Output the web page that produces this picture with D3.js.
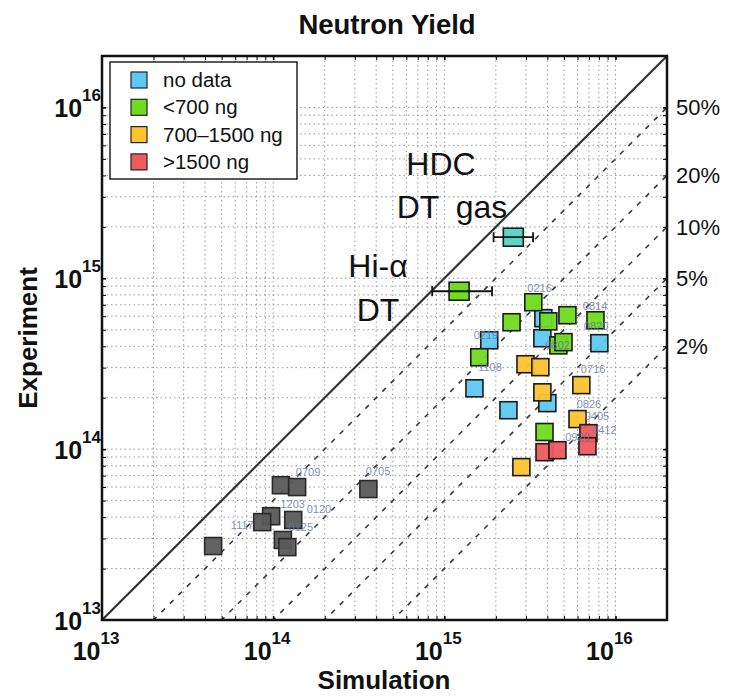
<!DOCTYPE html>
<html>
<head>
<meta charset="utf-8">
<script src="https://cdn.jsdelivr.net/npm/d3@7"></script>
<style>
  body { margin: 0; background: #fff; }
  svg { font-family: "Liberation Sans", Arial, sans-serif; }
</style>
</head>
<body>
<svg id="chart" width="729" height="698"></svg>
<script>
// [simulation, experiment] neutron yields
var noData = [[3.79e15, 5.84e14], [1.83e15, 4.34e14], [3.74e15, 4.46e14], [8.05e15, 4.17e14],
  [1.5e15, 2.27e14], [2.37e15, 1.69e14], [4.0e15, 1.86e14]];
var under700 = [[3.31e15, 7.24e14], [2.47e15, 5.53e14], [4.05e15, 5.6e14], [5.24e15, 6.08e14],
  [7.64e15, 5.68e14], [4.64e15, 4.05e14], [4.97e15, 4.23e14], [1.6e15, 3.45e14], [3.85e15, 1.26e14]];
var mid700to1500 = [[2.98e15, 3.14e14], [3.64e15, 3.02e14], [3.74e15, 2.15e14], [6.32e15, 2.37e14],
  [6.0e15, 1.5e14], [2.82e15, 7.85e13]];
var over1500 = [[6.95e15, 1.24e14], [6.86e15, 1.04e14], [3.85e15, 9.6e13], [4.58e15, 9.86e13]];
var oldShots = [[1.11e14, 6.15e13], [1.38e14, 6.0e13], [3.6e14, 5.84e13], [9.73e13, 4.05e13],
  [8.63e13, 3.74e13], [1.31e14, 3.85e13], [1.14e14, 2.94e13], [1.21e14, 2.67e13], [4.46e13, 2.71e13]];

// highlighted shots: [x, y, xLow, xHigh]
var hdcShot = [2.53e15, 1.74e15, 1.94e15, 3.3e15];
var hiAlphaShot = [1.22e15, 8.4e14, 8.5e14, 1.9e15];

var shotLabels = [["0216", 3.6e15, 8.3e14], ["0814", 7.6e15, 6.5e14], ["0820", 7.7e15, 5.0e14],
  ["0219", 1.75e15, 4.4e14], ["1108", 1.85e15, 2.85e14], ["0716", 7.4e15, 2.8e14],
  ["0826", 7.0e15, 1.75e14], ["0405", 7.8e15, 1.48e14], ["0412", 8.6e15, 1.22e14],
  ["0705", 4.1e14, 7.1e13], ["0709", 1.6e14, 7.0e13], ["1203", 1.3e14, 4.5e13],
  ["0120", 1.85e14, 4.25e13], ["1117", 6.6e13, 3.4e13], ["0125", 1.45e14, 3.3e13],
  ["0802", 4.6e15, 3.85e14], ["0920", 6.0e15, 1.12e14]];

var fractions = [0.5, 0.2, 0.1, 0.05, 0.02];
var fractionLabels = ["50%", "20%", "10%", "5%", "2%"];

var legendNames = ["no data", "<700 ng", "700\u20131500 ng", ">1500 ng"];
var legendColors = ["#5ec8f2", "#6fdc1e", "#fbc32e", "#ef5a5e"];

var svg = d3.select("#chart");
var pL = 102, pR = 667, pT = 56, pB = 620;
var domain = [1e13, 2e16];

var x = d3.scaleLog().domain(domain).range([pL, pR]);
var y = d3.scaleLog().domain(domain).range([pB, pT]);

svg.append("defs").append("clipPath").attr("id", "plotclip")
  .append("rect").attr("x", pL).attr("y", pT)
  .attr("width", pR - pL).attr("height", pB - pT);

// dotted grid at every log tick
var ticksAll = x.ticks().filter(function(t) { return t > domain[0] && t < domain[1]; });
var grid = svg.append("g").attr("stroke", "#9a9a9a").attr("stroke-width", 1)
  .attr("stroke-dasharray", "1.5,3");
grid.selectAll(".gx").data(ticksAll).enter().append("line")
  .attr("x1", function(d) { return x(d); }).attr("x2", function(d) { return x(d); })
  .attr("y1", pT).attr("y2", pB);
grid.selectAll(".gy").data(ticksAll).enter().append("line")
  .attr("y1", function(d) { return y(d); }).attr("y2", function(d) { return y(d); })
  .attr("x1", pL).attr("x2", pR);

// legend box
var leg = svg.append("g");
leg.append("rect").attr("x", 110).attr("y", 62).attr("width", 187).attr("height", 117)
  .attr("fill", "#fff").attr("stroke", "#000").attr("stroke-width", 1.3);
legendNames.forEach(function(name, i) {
  var cy = 80 + i * 27.3;
  leg.append("rect").attr("x", 131).attr("y", cy - 8).attr("width", 16).attr("height", 16)
    .attr("fill", legendColors[i]).attr("stroke", "#222").attr("stroke-width", 1.2);
  leg.append("text").attr("x", 163).attr("y", cy + 7).attr("font-size", 20.5)
    .attr("fill", "#111").text(name);
});

// diagonal lines
var lines = svg.append("g").attr("clip-path", "url(#plotclip)");
lines.append("line")
  .attr("x1", x(domain[0])).attr("y1", y(domain[0]))
  .attr("x2", x(domain[1])).attr("y2", y(domain[1]))
  .attr("stroke", "#333").attr("stroke-width", 2.2);
lines.selectAll(".frac").data(fractions).enter().append("line")
  .attr("x1", x(domain[0])).attr("y1", function(f) { return y(domain[0] * f); })
  .attr("x2", x(domain[1])).attr("y2", function(f) { return y(domain[1] * f); })
  .attr("stroke", "#3a3a3a").attr("stroke-width", 1.6).attr("stroke-dasharray", "5,7");

// points
var sq = 17;
function drawSquares(data, color, edge) {
  svg.append("g").selectAll("rect").data(data).enter().append("rect")
    .attr("x", function(d) { return x(d[0]) - sq / 2; })
    .attr("y", function(d) { return y(d[1]) - sq / 2; })
    .attr("width", sq).attr("height", sq)
    .attr("fill", color).attr("fill-opacity", 0.95)
    .attr("stroke", edge).attr("stroke-width", 1.6);
}
drawSquares(oldShots, "#5a5a5a", "#2a2a2a");
drawSquares(noData, legendColors[0], "#1a1a1a");
drawSquares(under700, legendColors[1], "#1a1a1a");
drawSquares(mid700to1500, legendColors[2], "#1a1a1a");
drawSquares(over1500, legendColors[3], "#1a1a1a");

// shot labels (on top of the markers)
svg.append("g").attr("clip-path", "url(#plotclip)")
  .selectAll("text").data(shotLabels).enter().append("text")
  .attr("x", function(d) { return x(d[1]); }).attr("y", function(d) { return y(d[2]); })
  .attr("font-size", 11).attr("fill", "#6677aa").attr("fill-opacity", 0.85)
  .attr("text-anchor", "middle")
  .text(function(d) { return d[0]; });

// highlighted shots with error bars
function drawErrShot(s, color) {
  var g = svg.append("g");
  var cy = y(s[1]);
  g.append("rect").attr("x", x(s[0]) - 10).attr("y", cy - 9).attr("width", 20).attr("height", 18)
    .attr("fill", color).attr("stroke", "#1a1a1a").attr("stroke-width", 1.6);
  g.append("line").attr("x1", x(s[2])).attr("x2", x(s[3])).attr("y1", cy).attr("y2", cy)
    .attr("stroke", "#111").attr("stroke-width", 1.8);
  [s[2], s[3]].forEach(function(v) {
    g.append("line").attr("x1", x(v)).attr("x2", x(v)).attr("y1", cy - 5).attr("y2", cy + 5)
      .attr("stroke", "#111").attr("stroke-width", 1.8);
  });
}
drawErrShot(hdcShot, "#5cd4c6");
drawErrShot(hiAlphaShot, legendColors[1]);

// annotations
var notes = svg.append("g").attr("font-size", 32).attr("fill", "#111").attr("text-anchor", "middle");
notes.append("text").attr("x", 441).attr("y", 175).text("HDC");
notes.append("text").attr("x", 452).attr("y", 218).attr("word-spacing", 8).text("DT gas");
notes.append("text").attr("x", 378).attr("y", 277).text("Hi-\u03b1");
notes.append("text").attr("x", 378).attr("y", 321).text("DT");

// axes (ticks inward, box)
var majors = [1e13, 1e14, 1e15, 1e16];
function boxAxis(axisFn, scale, transform) {
  svg.append("g").attr("transform", transform)
    .call(axisFn(scale).tickValues(ticksAll).tickSize(4).tickFormat(""))
    .call(function(g) { g.select(".domain").remove(); })
    .selectAll("line").attr("stroke", "#000").attr("stroke-width", function(d) {
      return majors.indexOf(d) >= 0 ? 1.6 : 1;
    });
}
boxAxis(d3.axisTop, x, "translate(0," + pB + ")");
boxAxis(d3.axisBottom, x, "translate(0," + pT + ")");
boxAxis(d3.axisRight, y, "translate(" + pL + ",0)");
boxAxis(d3.axisLeft, y, "translate(" + pR + ",0)");

svg.append("rect").attr("x", pL).attr("y", pT)
  .attr("width", pR - pL).attr("height", pB - pT)
  .attr("fill", "none").attr("stroke", "#111").attr("stroke-width", 2.5);

// tick labels
var exps = [13, 14, 15, 16];
exps.forEach(function(e) {
  var v = Math.pow(10, e);
  var tx = svg.append("text").attr("x", x(v) - 6).attr("y", 660)
    .attr("text-anchor", "middle").attr("font-weight", "bold").attr("font-size", 25).attr("fill", "#111");
  tx.append("tspan").text("10");
  tx.append("tspan").attr("dy", -16).attr("font-size", 17).text(e);
  var ty = svg.append("text").attr("x", 101).attr("y", y(v) + 10)
    .attr("text-anchor", "end").attr("font-weight", "bold").attr("font-size", 25).attr("fill", "#111");
  ty.append("tspan").text("10");
  ty.append("tspan").attr("dy", -16).attr("font-size", 17).text(e);
});

// fraction labels on the right
svg.append("g").selectAll("text").data(fractions).enter().append("text")
  .attr("x", 676).attr("y", function(f) { return y(domain[1] * f) + 8; })
  .attr("font-size", 22).attr("fill", "#111")
  .text(function(f, i) { return fractionLabels[i]; });

// titles
svg.append("text").attr("x", 387).attr("y", 34).attr("text-anchor", "middle")
  .attr("font-weight", "bold").attr("font-size", 27.5).attr("fill", "#111").text("Neutron Yield");
svg.append("text").attr("x", 384).attr("y", 689).attr("text-anchor", "middle")
  .attr("font-weight", "bold").attr("font-size", 26).attr("fill", "#111").text("Simulation");
svg.append("text").attr("transform", "translate(37,338) rotate(-90)").attr("text-anchor", "middle")
  .attr("font-weight", "bold").attr("font-size", 26).attr("fill", "#111").text("Experiment");
</script>
</body>
</html>
